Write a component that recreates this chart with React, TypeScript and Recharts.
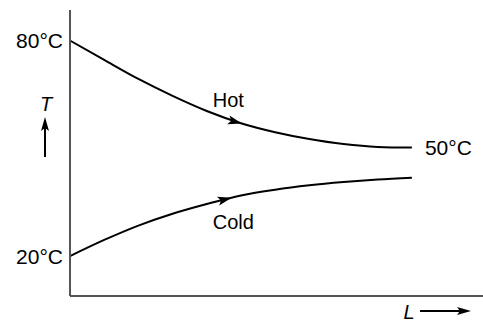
import { LineChart, Line, XAxis, YAxis, Label } from 'recharts';

// exchanger length (arbitrary units) and fluid temperatures (°C)
const lengths = [0, 1, 2, 3, 4, 5, 6, 7, 8, 9, 10];
const hotTemps = [80, 74.6, 69.3, 64.6, 60.4, 57.0, 54.5, 52.6, 51.2, 50.4, 50.2];
const coldTemps = [20, 24.5, 28.5, 31.8, 34.5, 36.9, 38.5, 39.7, 40.6, 41.3, 41.8];
const tempTicks = [20, 80];
const hotEndLabel = '50°C';
const hotArrowAt = 5;
const coldArrowAt = 4.7;
const labelAt = 4;

const data = lengths.map((L, i) => ({ L, hot: hotTemps[i], cold: coldTemps[i] }));

const FONT = '"Liberation Sans", Arial, Helvetica, sans-serif';

interface Pt {
  x: number;
  y: number;
}

function segmentOf(at: number) {
  let i = 0;
  while (i < lengths.length - 2 && lengths[i + 1] <= at) i++;
  const f = (at - lengths[i]) / (lengths[i + 1] - lengths[i]);
  return { i, f };
}

function arrowHead(points: Pt[] | undefined, at: number, cx: number, cy: number) {
  const { i, f } = segmentOf(at);
  let x = cx;
  let y = cy;
  let ang = 0;
  if (points && points[i] && points[i + 1]) {
    const a = points[i];
    const b = points[i + 1];
    x = a.x + (b.x - a.x) * f;
    y = a.y + (b.y - a.y) * f;
    ang = (Math.atan2(b.y - a.y, b.x - a.x) * 180) / Math.PI;
  }
  return (
    <polygon
      points="1,0 -13,-4.5 -10,0 -13,4.5"
      transform={`translate(${x},${y}) rotate(${ang})`}
      fill="#000"
    />
  );
}

function makeDot(arrowAt: number, name: string, dx: number, dy: number, endLabel?: string) {
  return (props: any) => {
    const { index, cx, cy, points } = props;
    const key = `d-${name}-${index}`;
    const parts = [];
    if (index === segmentOf(arrowAt).i) parts.push(<g key="a">{arrowHead(points, arrowAt, cx, cy)}</g>);
    if (index === lengths.indexOf(labelAt))
      parts.push(
        <text key="n" x={cx + dx} y={cy + dy} dy="0.355em" fontSize={20} fontFamily={FONT} fill="#000">
          {name}
        </text>
      );
    if (endLabel && index === lengths.length - 1)
      parts.push(
        <text key="e" x={cx + 13} y={cy} dy="0.355em" fontSize={21} fontFamily={FONT} fill="#000">
          {endLabel}
        </text>
      );
    return <g key={key}>{parts}</g>;
  };
}

function TLabel({ viewBox }: any) {
  const x = viewBox.x + viewBox.width - 24;
  const y = viewBox.y;
  return (
    <g>
      <text x={x} y={y + 94} dy="0.355em" textAnchor="middle" fontSize={20} fontStyle="italic" fontFamily={FONT} fill="#000">
        T
      </text>
      <line x1={x - 1} y1={y + 147} x2={x - 1} y2={y + 116} stroke="#000" strokeWidth={2} />
      <polygon points={`${x - 1},${y + 107} ${x - 5},${y + 121} ${x - 1},${y + 118} ${x + 3},${y + 121}`} fill="#000" />
    </g>
  );
}

function LLabel({ viewBox }: any) {
  const x = viewBox.x;
  const y = viewBox.y;
  return (
    <g>
      <text x={x + 339} y={y + 16} dy="0.355em" textAnchor="middle" fontSize={20} fontStyle="italic" fontFamily={FONT} fill="#000">
        L
      </text>
      <line x1={x + 350} y1={y + 15} x2={x + 392} y2={y + 15} stroke="#000" strokeWidth={2} />
      <polygon points={`${x + 401},${y + 15} ${x + 387},${y + 11} ${x + 390},${y + 15} ${x + 387},${y + 19}`} fill="#000" />
    </g>
  );
}

export default function App() {
  return (
    <div style={{ position: 'absolute', left: 0, top: 0, background: '#fff' }}>
      <LineChart width={483} height={325} data={data} margin={{ top: 10, right: 0, bottom: 28, left: 69 }}>
        <XAxis
          type="number"
          dataKey="L"
          domain={[0, 12.08]}
          height={1}
          tick={false}
          tickLine={false}
          axisLine={{ stroke: '#555', strokeWidth: 2 }}
        >
          <Label content={<LLabel />} />
        </XAxis>
        <YAxis
          type="number"
          domain={[8.9, 88.5]}
          ticks={tempTicks}
          width={1}
          tickLine={false}
          tickSize={6}
          tickMargin={1}
          tickFormatter={(v: number) => `${v}°C`}
          tick={{ fontSize: 21, fill: '#000', fontFamily: FONT }}
          axisLine={{ stroke: '#555', strokeWidth: 2 }}
          allowDataOverflow
        >
          <Label content={<TLabel />} />
        </YAxis>
        <Line
          dataKey="hot"
          type="monotone"
          stroke="#000"
          strokeWidth={2}
          dot={makeDot(hotArrowAt, 'Hot', 6, -11, hotEndLabel)}
          activeDot={false}
          isAnimationActive={false}
        />
        <Line
          dataKey="cold"
          type="monotone"
          stroke="#000"
          strokeWidth={2}
          dot={makeDot(coldArrowAt, 'Cold', 6, 18)}
          activeDot={false}
          isAnimationActive={false}
        />
      </LineChart>
    </div>
  );
}
